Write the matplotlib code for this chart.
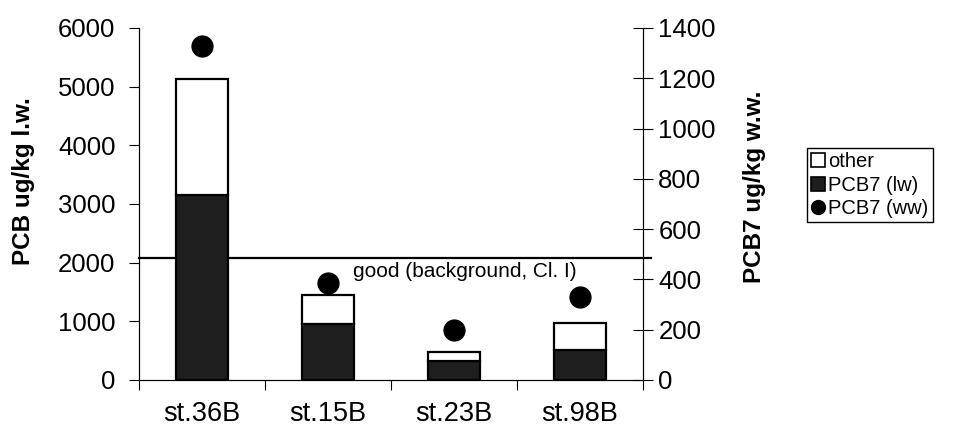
import matplotlib.pyplot as plt
from matplotlib.lines import Line2D
from matplotlib.patches import Patch

stations = ["st.36B", "st.15B", "st.23B", "st.98B"]
pcb7_lw = [3150, 960, 330, 510]
total_lw = [5130, 1450, 485, 970]
other_lw = [t - p for t, p in zip(total_lw, pcb7_lw)]
pcb7_ww = [1330, 387, 200, 332]
good_limit_ww = 485
good_label = "good (background, Cl. I)"


def main() -> None:
    plt.rcParams["font.family"] = ["Liberation Sans", "DejaVu Sans"]

    fig = plt.figure(figsize=(9.54, 4.32), dpi=100)
    ax = fig.add_axes([139 / 954, 0.1204, 504 / 954, 0.8148])
    ax2 = ax.twinx()

    x = list(range(len(stations)))
    dark = "#1e1e1e"
    ax.bar(x, pcb7_lw, width=0.42, color=dark, edgecolor="black", linewidth=1.6, zorder=3)
    ax.bar(x, other_lw, width=0.42, bottom=pcb7_lw, color="white",
           edgecolor="black", linewidth=1.6, zorder=3)

    ax.set_ylim(0, 6000)
    ax.set_yticks(range(0, 6001, 1000))
    ax.set_xlim(-0.5, len(stations) - 0.5)
    ax.set_xticks([i - 0.5 for i in range(len(stations) + 1)])
    ax.set_xticklabels([])
    ax.set_xticks(x, minor=True)
    ax.set_xticklabels(stations, minor=True)
    ax.tick_params(axis="x", which="major", direction="out", length=7, width=0.8)
    ax.tick_params(axis="x", which="minor", length=0, pad=15, labelsize=19.5)
    ax.tick_params(axis="y", direction="out", length=7, width=0.8, labelsize=18.5, pad=10)
    ax.set_ylabel("PCB ug/kg l.w.", fontsize=17.5, fontweight="bold")
    ax.yaxis.set_label_coords(-0.206, 0.565)

    ax2.set_ylim(0, 1400)
    ax2.set_yticks(range(0, 1401, 200))
    ax2.tick_params(axis="y", direction="inout", length=14, width=0.8, labelsize=18.5, pad=4)
    ax2.set_ylabel("PCB7 ug/kg w.w.", fontsize=17.5, fontweight="bold")
    ax2.yaxis.set_label_coords(1.198, 0.55)
    ax2.plot(x, pcb7_ww, "o", color="black", markersize=15, zorder=5, clip_on=False)
    ax2.axhline(good_limit_ww, xmin=0, xmax=1.015, color="black", linewidth=1.6,
                zorder=1, clip_on=False)
    ax2.text(1.2, good_limit_ww - 55, good_label, fontsize=15, va="center", ha="left")

    ax.set_zorder(ax2.get_zorder() + 1)
    ax.patch.set_visible(False)

    for a in (ax, ax2):
        a.spines["top"].set_visible(False)
        for s in a.spines.values():
            s.set_linewidth(0.8)

    handles = [
        Patch(facecolor="white", edgecolor="black", linewidth=1.2),
        Patch(facecolor=dark, edgecolor="black", linewidth=1.2),
        Line2D([], [], marker="o", linestyle="none", color="black", markersize=10),
    ]
    fig.legend(handles, ["other", "PCB7 (lw)", "PCB7 (ww)"], loc="upper left",
               bbox_to_anchor=(0.846, 0.657), fontsize=14.5, frameon=True, fancybox=False,
               edgecolor="black", framealpha=1, handlelength=0.7, handleheight=0.7,
               handletextpad=0.15, borderpad=0.2, labelspacing=0.22, borderaxespad=0)

    fig.savefig("out.png", dpi=100)
    plt.close(fig)


if __name__ == "__main__":
    main()
